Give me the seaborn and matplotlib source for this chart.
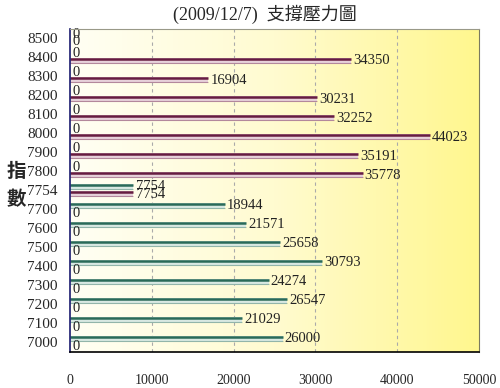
import numpy as np
import pandas as pd
import matplotlib
matplotlib.use("Agg")
import matplotlib.pyplot as plt
from matplotlib.colors import LinearSegmentedColormap
import seaborn as sns

levels = ["8500", "8400", "8300", "8200", "8100", "8000", "7900", "7800",
          "7754", "7700", "7600", "7500", "7400", "7300", "7200", "7100", "7000"]
support = [0, 0, 0, 0, 0, 0, 0, 0, 7754, 18944, 21571, 25658, 30793, 24274, 26547, 21029, 26000]
pressure = [0, 34350, 16904, 30231, 32252, 44023, 35191, 35778, 7754, 0, 0, 0, 0, 0, 0, 0, 0]
x_ticks = [0, 10000, 20000, 30000, 40000, 50000]

df = pd.DataFrame({
    "level": levels * 2,
    "series": ["support"] * len(levels) + ["pressure"] * len(levels),
    "value": support + pressure,
})

sns.set_style("white")
plt.rcParams["font.family"] = ["Liberation Serif", "Noto Sans CJK TC", "DejaVu Sans"]

fig = plt.figure(figsize=(5.0, 3.88), dpi=100)
ax = fig.add_axes([0.14, 0.0928, 0.818, 0.8325])

fills = {"support": "#d6eae2", "pressure": "#ebcdd9"}
darks = {"support": "#2a6a58", "pressure": "#661c40"}

sns.barplot(data=df, y="level", x="value", hue="series", order=levels,
            hue_order=["support", "pressure"], palette=fills, orient="h",
            width=0.74, gap=0.18, legend=False, ax=ax, zorder=3, linewidth=0)

# dark top edge / lighter bottom edge for cylinder look
for cont, key in zip(ax.containers, ["support", "pressure"]):
    for p in cont.patches:
        y0 = p.get_y()
        h = p.get_height()
        w = p.get_width()
        if w > 0:
            ax.plot([0, w], [y0 + h * 0.14, y0 + h * 0.14], color=darks[key], lw=1.8,
                    zorder=4, solid_capstyle="butt")
            ax.plot([0, w], [y0 + h * 0.9, y0 + h * 0.9], color=darks[key], lw=0.8,
                    alpha=0.4, zorder=4, solid_capstyle="butt")
    ax.bar_label(cont, labels=[str(int(v)) for v in cont.datavalues], padding=1.5,
                 fontsize=10.5, color="#222222", zorder=5)

ax.set_xlim(0, 50000)
ax.set_ylim(len(levels) - 0.5, -0.5)

cmap = LinearSegmentedColormap.from_list("bg", ["#fffff4", "#fffbd0", "#fff78e"])
ax.imshow(np.linspace(0, 1, 256).reshape(1, -1), cmap=cmap, extent=[0, 1, 0, 1],
          transform=ax.transAxes, aspect="auto", zorder=0)
ax.set_xlim(0, 50000)
ax.set_ylim(len(levels) - 0.5, -0.5)

for xv in x_ticks[1:-1]:
    ax.axvline(xv, color="#aaaaaa", lw=0.8, ls=(0, (3, 3)), zorder=1)

ax.set_xticks(x_ticks)
ax.set_xticklabels([str(v) for v in x_ticks], fontsize=10)
ax.tick_params(axis="x", direction="in", length=3, pad=16, color="#333333")
ax.set_yticks(range(len(levels)))
ax.set_yticklabels(levels, fontsize=11)
ax.tick_params(axis="y", which="major", length=0, pad=9)
ax.set_yticks(np.arange(-0.5, len(levels) - 0.4, 1), minor=True)
ax.tick_params(axis="y", which="minor", direction="inout", length=9, color="#1a1a6e", width=1)

ax.set_xlabel("")
ax.set_ylabel("")
ax.spines["left"].set_color("#1a1a6e")
ax.spines["left"].set_linewidth(1.2)
ax.spines["bottom"].set_color("#000000")
ax.spines["bottom"].set_linewidth(1.2)
ax.spines["top"].set_color("#999988")
ax.spines["right"].set_color("#7a7a60")
for s in ax.spines.values():
    s.set_zorder(6)

fig.text(0.53, 0.962, "(2009/12/7)  支撐壓力圖", ha="center", va="center", fontsize=13,
         family=["Liberation Serif", "Noto Sans CJK TC"])
fig.text(0.032, 0.557, "指", ha="center", va="center", fontsize=14, fontweight="bold",
         family=["Noto Sans CJK TC"])
fig.text(0.032, 0.485, "數", ha="center", va="center", fontsize=14, fontweight="bold",
         family=["Noto Sans CJK TC"])

fig.savefig("out.png", dpi=100)
